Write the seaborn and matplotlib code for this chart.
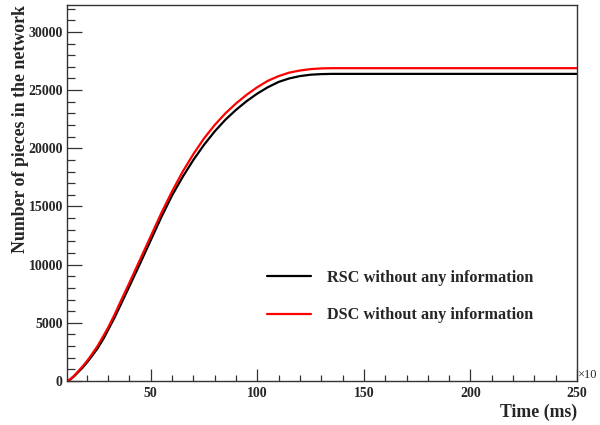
import numpy as np
import pandas as pd
import matplotlib
matplotlib.use('Agg')
import matplotlib.pyplot as plt
import seaborn as sns
from matplotlib.ticker import MultipleLocator

# time in units of x10 ms
time = [10, 12, 14, 16, 18, 20, 22, 25, 28, 30, 33, 36, 40, 45, 50, 55, 60,
        65, 70, 75, 80, 85, 90, 95, 100, 105, 110, 115, 120, 125, 130, 135, 250]
rsc = [0, 100, 400, 780, 1150, 1580, 2050, 2800, 3700, 4400, 5450, 6600,
       8150, 10100, 12100, 14100, 15950, 17550, 19000, 20300, 21450, 22450,
       23300, 24050, 24700, 25250, 25700, 26000, 26200, 26320, 26370, 26390,
       26390]
dsc = [0, 120, 450, 850, 1250, 1700, 2200, 3000, 3950, 4600, 5700, 6900,
       8450, 10450, 12450, 14450, 16300, 18000, 19500, 20850, 22000, 23000,
       23850, 24600, 25250, 25800, 26200, 26500, 26680, 26800, 26860, 26880,
       26880]
labels = ['RSC without any information', 'DSC without any information']

df = pd.concat([
    pd.DataFrame({'time': time, 'pieces': rsc, 'series': labels[0]}),
    pd.DataFrame({'time': time, 'pieces': dsc, 'series': labels[1]}),
])

sns.set_style('ticks')
plt.rcParams['font.family'] = ['Liberation Serif', 'DejaVu Serif']
plt.rcParams['font.weight'] = 'bold'

fig = plt.figure(figsize=(6, 4.25), dpi=100)
ax = fig.add_axes([0.1117, 0.1035, 0.85, 0.8845])

sns.lineplot(data=df, x='time', y='pieces', hue='series', hue_order=labels,
             palette=['black', 'red'], linewidth=1.6, ax=ax)

ax.set_xlim(10.7, 250)
ax.set_ylim(0, 32300)
ax.xaxis.set_major_locator(MultipleLocator(50))
ax.xaxis.set_minor_locator(MultipleLocator(10))
ax.yaxis.set_major_locator(MultipleLocator(5000))
ax.yaxis.set_minor_locator(MultipleLocator(1000))
ax.tick_params(which='both', direction='in', top=False, right=False,
               labelsize=10, width=0.9, color='#333333')
ax.tick_params(axis='y', which='major', length=11, pad=3)
ax.tick_params(axis='y', which='minor', length=5.5)
ax.tick_params(axis='x', which='major', length=9, pad=4)
ax.tick_params(axis='x', which='minor', length=4.5)
for lab in ax.get_xticklabels() + ax.get_yticklabels():
    lab.set_fontweight('bold')
for sp in ax.spines.values():
    sp.set_linewidth(1.0)
    sp.set_color('#333333')

ax.set_xlabel('Time (ms)', loc='right', fontsize=12.8, fontweight='bold',
              labelpad=3)
ax.set_ylabel('Number of pieces in the network', loc='top', fontsize=12.8,
              fontweight='bold', labelpad=-0.5)
ax.text(1.0, 0.0, '×10', transform=ax.transAxes, fontsize=9,
        ha='left', va='bottom', fontweight='normal')

ax.legend(loc='upper left', bbox_to_anchor=(0.364, 0.334), frameon=False,
          handlelength=2.7, handletextpad=1.0,
          labelspacing=1.3, prop={'weight': 'bold', 'size': 11.7})

fig.savefig('out.png', dpi=100)
